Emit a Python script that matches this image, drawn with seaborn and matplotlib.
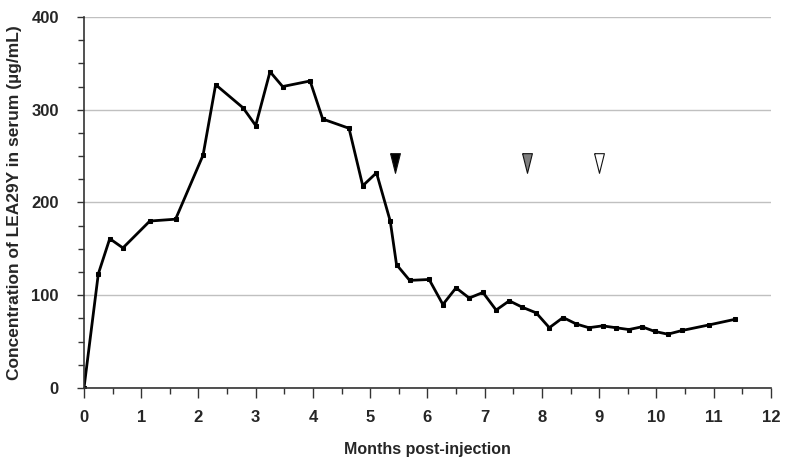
import matplotlib
matplotlib.use("Agg")
import matplotlib.pyplot as plt
import seaborn as sns
import pandas as pd
from matplotlib.ticker import MultipleLocator

months = [0, 0.25, 0.45, 0.68, 1.15, 1.6, 2.08, 2.3, 2.78, 3.0, 3.25, 3.47, 3.95,
          4.17, 4.63, 4.87, 5.11, 5.35, 5.46, 5.69, 6.03, 6.27, 6.5, 6.73, 6.97,
          7.2, 7.43, 7.66, 7.9, 8.13, 8.37, 8.6, 8.82, 9.06, 9.29, 9.52, 9.75,
          9.97, 10.2, 10.45, 10.92, 11.37]
conc = [0, 123, 161, 151, 180, 182, 251, 327, 302, 283, 341, 325, 331,
        290, 280, 218, 232, 180, 133, 116, 117, 90, 108, 97, 103,
        84, 94, 87, 81, 65, 76, 69, 65, 67, 65, 63, 66,
        61, 58, 62, 68, 74]

arrow_x = [5.44, 7.74, 8.99]
arrow_y = [243, 243, 243]
arrow_colors = ["#000000", "#7f7f7f", "#ffffff"]

x_ticks = list(range(0, 13))
y_ticks = [0, 100, 200, 300, 400]

sns.set_theme(style="white")
plt.rcParams['font.family'] = ['Liberation Sans', 'DejaVu Sans']

fig = plt.figure(figsize=(7.85, 4.59), dpi=100)
ax = fig.add_axes([0.107, 0.1547, 0.875, 0.8083])

df = pd.DataFrame({"Months": months, "Conc": conc})
sns.lineplot(data=df, x="Months", y="Conc", ax=ax, color="black", linewidth=2,
             marker="s", markersize=3.2, markeredgecolor="black")

tri = [(-0.25, 0.5), (0.25, 0.5), (0.0, -0.5), (-0.25, 0.5)]
for xv, yv, c in zip(arrow_x, arrow_y, arrow_colors):
    ax.scatter([xv], [yv], marker=tri, s=200, color=c, edgecolor="#111111",
               linewidth=0.8, zorder=5)

ax.set_xlim(0, 12)
ax.set_ylim(0, 400)
ax.set_xticks(x_ticks)
ax.set_yticks(y_ticks)
ax.xaxis.set_minor_locator(MultipleLocator(0.5))
ax.yaxis.set_minor_locator(MultipleLocator(25))
ax.yaxis.grid(True, color="#c0c0c0", linewidth=1)
ax.xaxis.grid(False)
ax.set_axisbelow(True)

for s in ["top", "right"]:
    ax.spines[s].set_visible(False)
for s in ["left", "bottom"]:
    ax.spines[s].set_color("#333333")
    ax.spines[s].set_linewidth(1.2)

ax.tick_params(axis="both", which="major", direction="out", length=5, width=1,
               color="#333333", labelsize=12, bottom=True, left=True)
ax.tick_params(axis="both", which="minor", direction="out", length=4, width=1,
               color="#333333", bottom=True, left=True)
ax.tick_params(axis="x", which="major", length=7, pad=9)
ax.tick_params(axis="y", which="major", pad=13)

for lbl in ax.get_xticklabels() + ax.get_yticklabels():
    lbl.set_fontweight("bold")

ax.set_xlabel("Months post-injection", fontsize=11.5, fontweight="bold", labelpad=12)
ax.set_ylabel("Concentration of LEA29Y in serum (µg/mL)", fontsize=12.5,
              fontweight="bold", labelpad=7)

fig.savefig("out.png", dpi=100, facecolor="white")
